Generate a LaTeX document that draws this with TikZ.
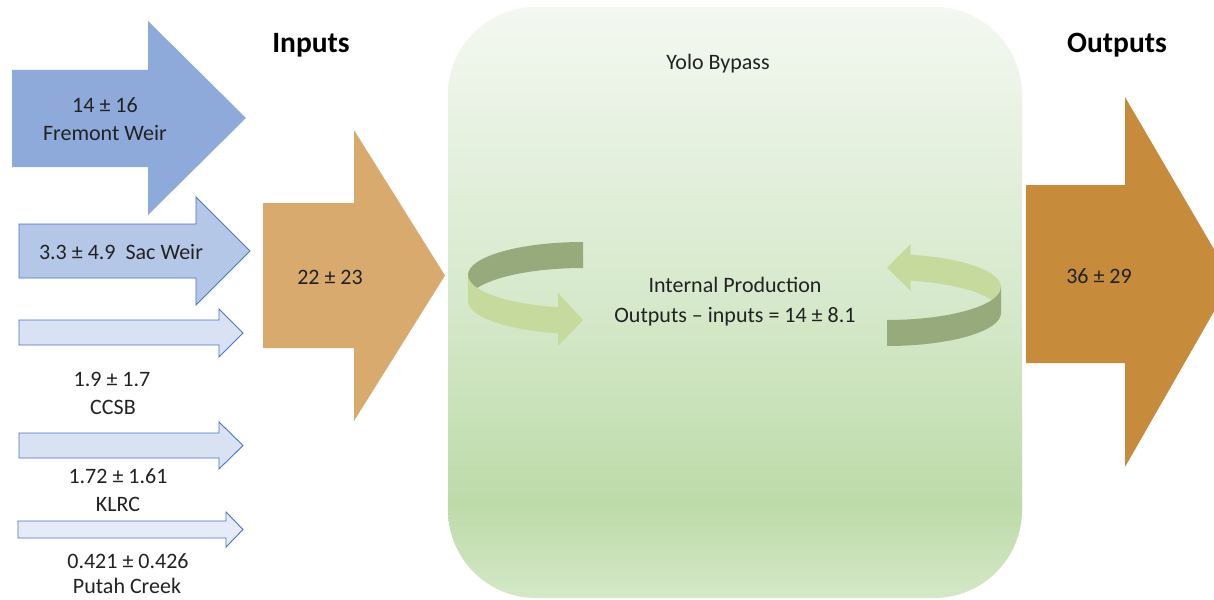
\documentclass[tikz,border=0pt]{standalone}
\usepackage{fontspec}
\setmainfont{Carlito}

\definecolor{txt}{HTML}{222222}
\definecolor{fremont}{HTML}{8EAADB}
\definecolor{sacfill}{HTML}{B4C7E7}
\definecolor{smallfill}{HTML}{D9E2F3}
\definecolor{putahfill}{HTML}{E6ECF7}
\definecolor{bluedge}{HTML}{4A74C4}
\definecolor{inorange}{HTML}{D8AA6E}
\definecolor{outorange}{HTML}{C78B3C}
\definecolor{ribdark}{HTML}{97AA7B}
\definecolor{riblight}{HTML}{C7DA9E}
\definecolor{gTop}{HTML}{F3F8F0}
\definecolor{gUp}{HTML}{EAF3E5}
\definecolor{gMid}{HTML}{D6E9CB}
\definecolor{gLow}{HTML}{BDDBA9}
\definecolor{gBot}{HTML}{D4E8C7}

% vertical fill of the bypass panel (path box maps to 25bp..75bp)
\pgfdeclareverticalshading{bypass}{100bp}{%
  color(0bp)=(gBot); color(25bp)=(gBot); color(33bp)=(gLow);
  color(50bp)=(gMid); color(67bp)=(gUp); color(75bp)=(gTop);
  color(100bp)=(gTop)}

\begin{document}
\begin{tikzpicture}[x=1pt,y=-1pt,
  lbl/.style={font=\fontsize{22}{26}\selectfont, anchor=base, inner sep=0pt, text=txt},
  hdr/.style={font=\fontsize{29.5}{34}\selectfont\bfseries, anchor=base, inner sep=0pt, text=black},
  bigblue/.style={fill=fremont},
  sacarrow/.style={fill=sacfill, draw=bluedge, line width=0.9pt, line join=miter},
  smallarrow/.style={fill=smallfill, draw=bluedge, line width=0.9pt, line join=miter},
  putaharrow/.style={fill=putahfill, draw=bluedge, line width=0.9pt, line join=miter},
  inarrow/.style={fill=inorange},
  outarrow/.style={fill=outorange},
  ribback/.style={fill=ribdark},
  ribfront/.style={fill=riblight}]

\useasboundingbox (0,0) rectangle (1214,599);
\clip (0,0) rectangle (1214,599);
\fill[white] (0,0) rectangle (1214,599);

% Yolo Bypass panel
\shade[shading=bypass, rounded corners=88pt] (448,7) rectangle (1022,598);

% source arrows
\path[bigblue] (12,70) -- (148,70) -- (148,21) -- (246,118) -- (148,215) -- (148,167) -- (12,167) -- cycle;
\path[sacarrow] (19,224) -- (196,224) -- (196,197) -- (250,251) -- (196,305) -- (196,278) -- (19,278) -- cycle;
\path[smallarrow] (19,320) -- (219,320) -- (219,309) -- (243,333) -- (219,357) -- (219,345) -- (19,345) -- cycle;
\path[smallarrow] (19,433) -- (219,433) -- (219,422) -- (243,445.5) -- (219,469) -- (219,458) -- (19,458) -- cycle;
\path[putaharrow] (18,521) -- (226,521) -- (226,512) -- (243,529.5) -- (226,547) -- (226,538) -- (18,538) -- cycle;

% total input and output arrows
\path[inarrow] (263,203) -- (354,203) -- (354,130) -- (445,275.5) -- (354,421) -- (354,348) -- (263,348) -- cycle;
\path[outarrow] (1026,185) -- (1125,185) -- (1125,97) -- (1232,280) -- (1125,467) -- (1125,363) -- (1026,363) -- cycle;

% left circular ribbon: back band, then front band with head
\path[ribback] (583,242) arc[start angle=-90, end angle=-180, x radius=115, y radius=33]
  -- (468,301) arc[start angle=180, end angle=270, x radius=115, y radius=33] -- cycle;
\path[ribfront] (468,275) arc[start angle=180, end angle=102.5, x radius=115, y radius=33]
  -- (558.1,293) -- (583,320.2) -- (558.1,346) -- (558.1,333.2)
  arc[start angle=102.5, end angle=180, x radius=115, y radius=33] -- cycle;

% right circular ribbon: back band with head, then front band
\path[ribfront] (1001,287) arc[start angle=0, end angle=-78, x radius=114, y radius=33]
  -- (910.7,244) -- (887,267.7) -- (910.7,291) -- (910.7,280.7)
  arc[start angle=-78, end angle=0, x radius=114, y radius=33] -- cycle;
\path[ribback] (1001,287) arc[start angle=0, end angle=90, x radius=114, y radius=33]
  -- (887,346) arc[start angle=90, end angle=0, x radius=114, y radius=33] -- cycle;

% headings
\node[hdr] (hin) at (311,53) {Inputs};
\node[hdr] (hout) at (1117,53) {Outputs};

% labels
\node[lbl] (fw1) at (105,113) {14 ± 16};
\node[lbl] (fw2) at (105,140) {Fremont Weir};
\node[lbl] (sac) at (121,259) {3.3 ± 4.9\ \ Sac Weir};
\node[lbl] (tin) at (330,284) {22 ± 23};
\node[lbl] (cc1) at (112,386) {1.9 ± 1.7};
\node[lbl] (cc2) at (113,414) {CCSB};
\node[lbl] (kl1) at (118,483) {1.72 ± 1.61};
\node[lbl] (kl2) at (118,511) {KLRC};
\node[lbl] (pc1) at (128,568) {0.421 ± 0.426};
\node[lbl] (pc2) at (127,593) {Putah Creek};
\node[lbl] (yolo) at (718,70) {Yolo Bypass};
\node[lbl] (ip1) at (735,292) {Internal Production};
\node[lbl] (ip2) at (735,322) {Outputs – inputs = 14 ± 8.1};
\node[lbl] (tout) at (1099,283) {36 ± 29};
\end{tikzpicture}
\end{document}
